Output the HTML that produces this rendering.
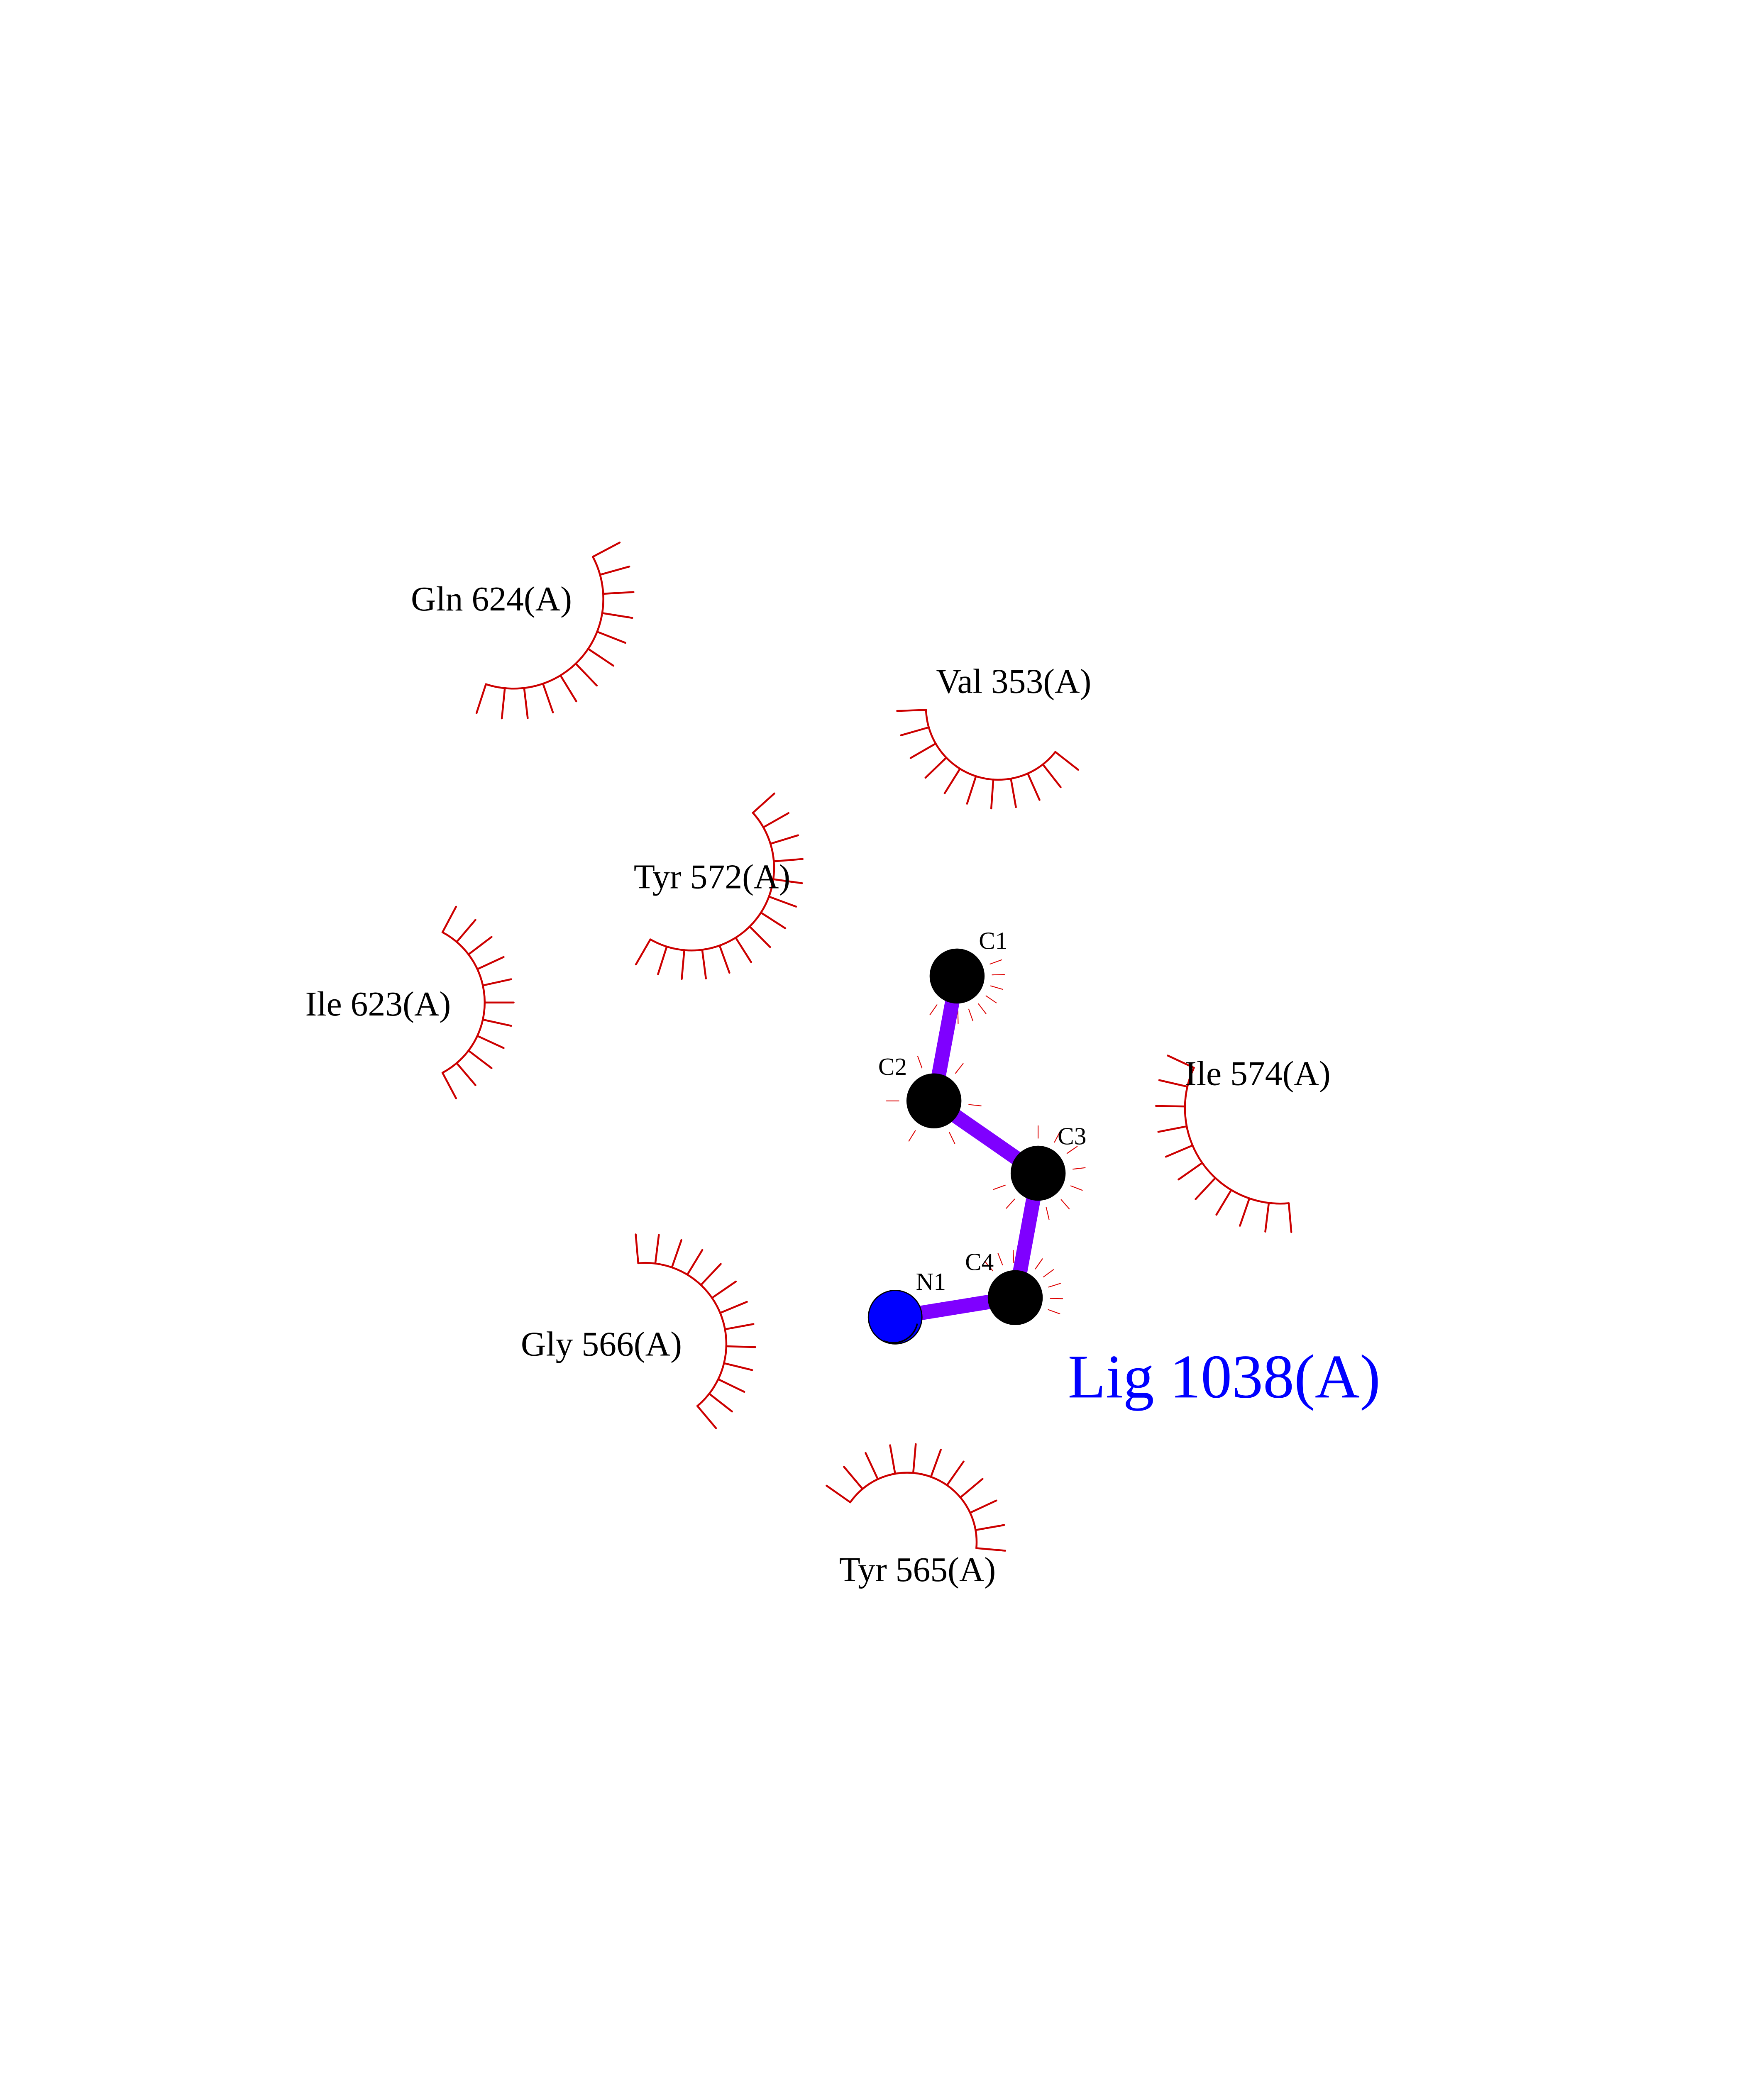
<!DOCTYPE html>
<html><head><meta charset="utf-8">
<style>
html,body{margin:0;padding:0;background:#fff;width:4250px;height:5500px;overflow:hidden;}
svg{display:block;position:absolute;left:0;top:0;}
text{font-family:"Liberation Serif",serif;}
</style></head>
<body>
<svg id="s" width="4250" height="5500" viewBox="0 0 1219.2 1577.8" xmlns="http://www.w3.org/2000/svg">
<rect width="1219.2" height="1577.8" fill="#fff"/>
<g id="arcs" stroke="#cc0000" stroke-width="1.3" fill="none" stroke-linecap="round"></g>
<g id="aticks" stroke="#dd0000" stroke-width="0.6" fill="none"></g>
<g stroke="#7f00ff" stroke-width="10" stroke-linecap="butt">
<line x1="661.5" y1="674.7" x2="645.5" y2="761"/>
<line x1="645.5" y1="761" x2="717.5" y2="811"/>
<line x1="717.5" y1="811" x2="701.7" y2="897"/>
<line x1="701.7" y1="897" x2="618.7" y2="910.5"/>
</g>
<g fill="#000">
<circle cx="661.5" cy="674.7" r="19"/>
<circle cx="645.5" cy="761" r="19"/>
<circle cx="717.5" cy="811" r="19"/>
<circle cx="701.7" cy="897" r="19"/>
</g>
<circle cx="618.7" cy="910.5" r="18.5" fill="#0000ff" stroke="#000" stroke-width="0.8"/>
<path d="M611,927 A17,17 0 0 0 634,915" stroke="#000" stroke-width="1" fill="none"/>
<g font-size="17" fill="#000">
<text x="676.5" y="656">C1</text>
<text x="607" y="743">C2</text>
<text x="731" y="791">C3</text>
<text x="667" y="878">C4</text>
<text x="633" y="891.6">N1</text>
</g>
<g font-size="24" fill="#000">
<text x="284" y="422">Gln 624(A)</text>
<text x="647" y="479">Val 353(A)</text>
<text x="438" y="614">Tyr 572(A)</text>
<text x="211" y="702">Ile 623(A)</text>
<text x="819" y="750">Ile 574(A)</text>
<text x="360" y="937">Gly 566(A)</text>
<text x="580" y="1093">Tyr 565(A)</text>
</g>
<text x="738" y="966" font-size="43" fill="#0000ff">Lig 1038(A)</text>
<circle cx="60" cy="1468" r="0.8" fill="#000"/>
</svg>
<script>
var NS="http://www.w3.org/2000/svg";
var g=document.getElementById("arcs");
function L(p,x1,y1,x2,y2){var l=document.createElementNS(NS,"line");l.setAttribute("x1",x1);l.setAttribute("y1",y1);l.setAttribute("x2",x2);l.setAttribute("y2",y2);p.appendChild(l);}
function arc(cx,cy,r,a0,a1,n,tl){
  var d=Math.PI/180, s=Math.min(a0,a1), e=Math.max(a0,a1);
  var p=document.createElementNS(NS,"path");
  var x0=cx+r*Math.cos(s*d),y0=cy+r*Math.sin(s*d),x1=cx+r*Math.cos(e*d),y1=cy+r*Math.sin(e*d);
  p.setAttribute("d","M"+x0+","+y0+" A"+r+","+r+" 0 "+((e-s)>180?1:0)+" 1 "+x1+","+y1);
  g.appendChild(p);
  for(var i=0;i<n;i++){var a=(s+(e-s)*i/(n-1))*d;
    L(g,cx+r*Math.cos(a),cy+r*Math.sin(a),cx+(r+tl)*Math.cos(a),cy+(r+tl)*Math.sin(a));}
}
arc(355,414,62,-28,108,12,21);
arc(690,489,50,38,178,11,20);
arc(478,600,57,-42,120,14,20);
arc(280,693,55,-62,62,11,20);
arc(885,766,66,85,205,11,20);
arc(446,929,56,-95,50,13,20);
arc(627,1066,48,-145,5,11,20);
var t=document.getElementById("aticks");
function aticks(cx,cy,a0,a1,n){var d=Math.PI/180;for(var i=0;i<n;i++){var a=(a0+(a1-a0)*i/(n-1))*d;
 L(t,cx+24*Math.cos(a),cy+24*Math.sin(a),cx+33*Math.cos(a),cy+33*Math.sin(a));}}
aticks(661.5,674.7,-20,125,9);
aticks(645.5,761,-110,180,6);
aticks(717.5,811,-90,160,10);
aticks(701.7,897,-130,20,9);
</script>
</body></html>
